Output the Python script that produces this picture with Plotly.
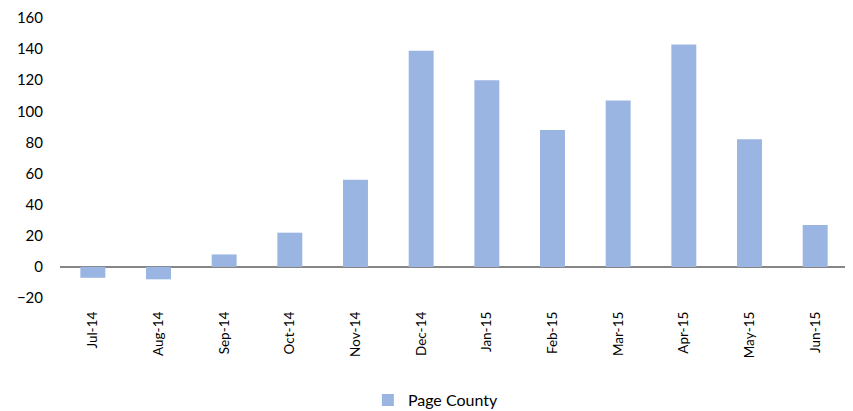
import plotly.graph_objects as go

months = ["Jul-14", "Aug-14", "Sep-14", "Oct-14", "Nov-14", "Dec-14",
          "Jan-15", "Feb-15", "Mar-15", "Apr-15", "May-15", "Jun-15"]
values = [-7, -8, 8, 22, 56, 139, 120, 88, 107, 143, 82, 27]
series_name = "Page County"
y_ticks = [-20, 0, 20, 40, 60, 80, 100, 120, 140, 160]

fig = go.Figure()
fig.add_trace(go.Bar(
    x=months, y=values, name=series_name,
    marker=dict(color="#9bb5e3", line=dict(width=0)),
    showlegend=True,
))

fig.update_layout(
    width=845, height=403,
    margin=dict(l=52, r=5, t=10, b=113, autoexpand=False),
    plot_bgcolor="white", paper_bgcolor="white",
    bargap=0.62,
    font=dict(family="Lato, Liberation Sans, sans-serif", size=15, color="#000000"),
    showlegend=True,
    legend=dict(orientation="h", x=0.477, xanchor="center", yref="paper",
                y=-0.365, yanchor="middle", font=dict(size=16)),
    xaxis=dict(
        type="category", tickangle=-90, showgrid=False, showline=False,
        ticks="", tickfont=dict(size=13.5), ticklabelstandoff=10, automargin=False,
    ),
    yaxis=dict(
        range=[-20, 160], tickvals=y_ticks, showgrid=False, showline=False,
        zeroline=True, zerolinecolor="#868686", zerolinewidth=2,
        tickfont=dict(size=15), ticks="", ticklabelstandoff=16, automargin=False,
    ),
)

fig.write_html("out.html")
